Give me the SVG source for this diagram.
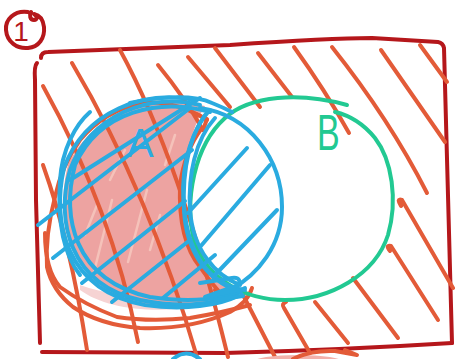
<svg xmlns="http://www.w3.org/2000/svg" width="455" height="359" viewBox="0 0 455 359">
<style>
.s{fill:none;stroke-linecap:round;stroke-linejoin:round}
.fr{stroke:#b5171b;stroke-width:4}
.or{stroke:#e35b38;stroke-width:4}
.bl{stroke:#2aabe0;stroke-width:4}
.gr{stroke:#22c992;stroke-width:4}
.lt{stroke:#f5c2ba;stroke-width:2.5}
.lbl{font-family:"Liberation Sans",Arial,sans-serif}
</style>
<rect width="455" height="359" fill="#ffffff"/>
<g id="label-1">
<path class="s fr" d="M28,12 C14,10 5,20 6,30 C7,42 17,49 28,48 C39,47 45,38 44,27 C43,19 39,15 34,14 C37,16 38,20 34,20 C30,20 29,15 31,12"/>
<text class="lbl" x="21" y="41" font-size="28" fill="#b5171b" text-anchor="middle">1</text>
</g>
<g id="frame">
<path class="s fr" d="M41,58 Q41,52 48,52 L230,45 Q330,38 372,38 L438,42 Q443,43 444,48 Q448,180 452,343"/>
<path class="s fr" d="M37,63 Q34,66 35,80 L36,200 L40,343"/>
<path class="s fr" d="M42,352 L225,353 Q340,350 452,343"/>
</g>
<g id="A-fill">
<path fill="#f6d3d3" d="M80,290 C110,312 170,316 230,300 L225,292 C180,300 120,300 80,285 Z"/>
<path fill="#eda3a1" d="M205,106 C150,93 92,113 68,165 C55,215 66,287 140,303 C180,311 220,304 238,292 C205,280 186,250 184,210 C182,170 190,130 205,106 Z"/>
<path class="s lt" d="M92,280 L112,200 M128,262 L147,190 M85,235 L97,205 M150,250 L160,215 M110,180 L125,150 M165,165 L175,135"/>
</g>
<g id="connectors">
<g id="orange-hatch">
<path class="s or" d="M43,86 Q112,210 138,342"/>
<path class="s or" d="M72,63 Q150,195 197,357"/>
<path class="s or" d="M120,50 Q180,160 228,357"/>
<path class="s or" d="M43,165 Q70,240 87,350"/>
<path class="s or" d="M158,65 Q185,98 203,130"/>
<path class="s or" d="M188,57 L230,107"/>
<path class="s or" d="M215,48 L260,107"/>
<path class="s or" d="M258,53 L292,97"/>
<path class="s or" d="M294,47 Q325,90 349,133"/>
<path class="s or" d="M332,47 Q390,120 427,193"/>
<path class="s or" d="M381,50 L445,142"/>
<path class="s or" d="M420,45 L447,82"/>
<path class="s or" d="M401,206 Q396,198 402,200 L453,288"/>
<path class="s or" d="M390,251 Q385,245 391,246 L438,320"/>
<path class="s or" d="M353,278 L398,338"/>
<path class="s or" d="M315,302 L348,343"/>
<path class="s or" d="M286,302 Q281,304 284,308 L310,353"/>
<path class="s or" d="M242,293 L275,357"/>
</g>
<g id="orange-outline">
<path class="s or" d="M207,120 Q175,100 143,103 Q105,110 80,140 Q62,165 55,197 Q45,235 47,267 Q52,290 73,307 Q100,325 140,328 Q190,330 230,312 Q248,302 252,288"/>
<path class="s or" d="M45,233 Q45,270 60,287 Q85,305 117,317 Q150,322 190,318 Q225,312 250,305"/>
<path class="s or" d="M203,130 L207,119 L196,114"/>
<path class="s or" d="M202,128 Q185,150 180,185 Q178,240 200,267 Q210,282 222,295 L215,290"/>
</g>
</g>
<g id="B">
<path class="s gr" d="M347,105 C300,92 250,95 225,118 C195,145 183,200 195,245 C210,280 245,300 285,300 C330,300 375,275 388,235 C398,200 392,160 375,138 C362,122 348,115 335,112"/>
<text class="lbl" transform="translate(317,150) scale(0.68,1)" font-size="50" fill="#22c992">B</text>
</g>
<g id="A">
<path class="s bl" d="M200,105 C150,92 90,115 70,170 C55,220 70,285 140,300 C180,308 215,305 240,292"/>
<path class="s bl" d="M210,112 C160,98 100,110 75,165 C62,215 72,280 150,297 C190,303 225,300 245,288"/>
<path class="s bl" d="M195,100 C145,90 85,110 64,168 C52,220 64,290 145,305 C185,311 220,305 238,296"/>
<path class="s bl" d="M130,103 C160,96 195,95 212,103 C222,107 228,110 232,112"/>
<path class="s bl" d="M90,112 C75,125 62,150 60,180 C58,210 60,250 80,275"/>
<path class="s bl" d="M210,110 C190,130 182,170 184,210 C186,250 205,280 240,292"/>
<path class="s bl" d="M205,115 C188,140 179,175 185,215 C190,255 210,285 245,290"/>
<path class="s bl" d="M215,118 C195,140 188,175 190,210 C193,250 215,275 240,285"/>
<path class="s bl" d="M200,108 C250,115 282,160 282,207 C282,245 258,275 230,290"/>
<path class="s bl" d="M200,283 L232,278 C240,277 242,283 236,286 L205,297 L238,290 L243,296 L215,300"/>
<path class="s bl" d="M70,180 L200,98"/>
<path class="s bl" d="M38,225 L190,108"/>
<path class="s bl" d="M53,258 L192,150"/>
<path class="s bl" d="M82,283 L185,201"/>
<path class="s bl" d="M112,302 L190,240"/>
<path class="s bl" d="M163,298 L215,255"/>
<path class="s bl" d="M188,213 L247,148"/>
<path class="s bl" d="M200,247 L270,165"/>
<path class="s bl" d="M213,277 L277,210"/>
<text class="lbl" x="127" y="157" font-size="40" fill="#2aabe0">A</text>
</g>
<g id="bottom-partial">
<ellipse cx="298" cy="362" rx="45" ry="7" fill="#f3b1aa"/>
<path class="s or" d="M293,359 Q310,350 335,351 L357,355 L345,350"/>
<path class="s bl" d="M173,359 Q186,348 200,359"/>
</g>
</svg>
